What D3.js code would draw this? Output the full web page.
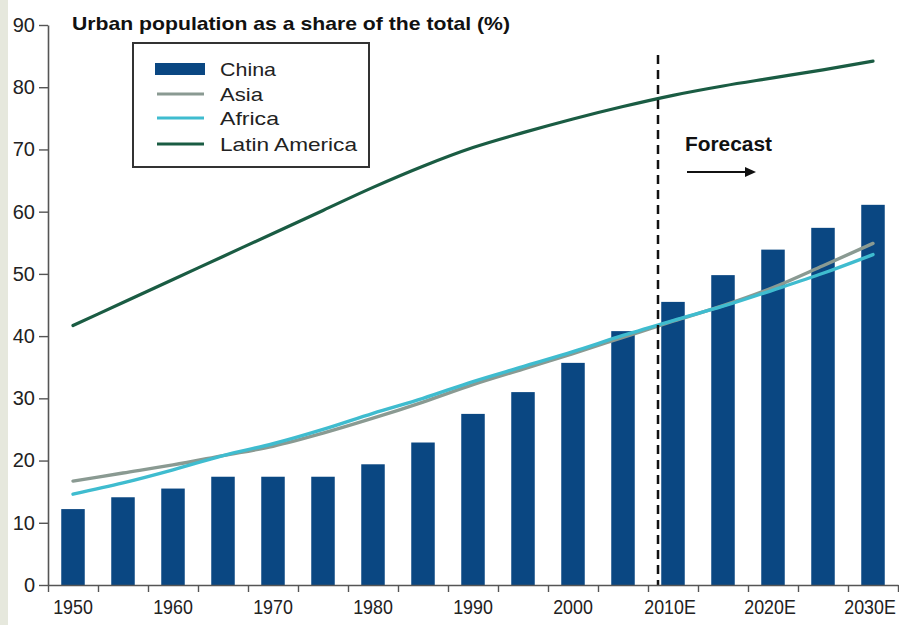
<!DOCTYPE html>
<html>
<head>
<meta charset="utf-8">
<script src="https://cdn.jsdelivr.net/npm/d3@7/dist/d3.min.js"></script>
<style>
  html, body { margin: 0; padding: 0; background: #ffffff; }
  svg { display: block; }
  text { font-family: "Liberation Sans", Arial, Helvetica, sans-serif; }
</style>
</head>
<body>
<svg id="chart" width="899" height="625"></svg>
<script>
// ---- data ----
const years = ["1950","1955","1960","1965","1970","1975","1980","1985","1990","1995","2000","2005","2010","2015","2020","2025","2030"];
const yearNums = years.map(Number);
const china = [12.2, 14.1, 15.5, 17.4, 17.4, 17.4, 19.4, 22.9, 27.5, 31.0, 35.7, 40.8, 45.5, 49.8, 53.9, 57.4, 61.1];
const asia = [16.7, 18.0, 19.3, 20.8, 22.3, 24.4, 26.8, 29.4, 32.2, 34.7, 37.2, 39.8, 42.4, 44.9, 47.8, 51.3, 54.9];
const africa = [14.6, 16.4, 18.5, 20.8, 22.7, 25.0, 27.6, 30.0, 32.7, 35.1, 37.5, 40.1, 42.5, 44.8, 47.4, 50.1, 53.1];
const latinAmerica = [41.7, 45.4, 49.1, 52.8, 56.5, 60.2, 63.9, 67.3, 70.3, 72.7, 74.9, 76.9, 78.7, 80.2, 81.5, 82.8, 84.2];
const xTickYears = ["1950","1960","1970","1980","1990","2000","2010","2020","2030"];
const xTickLabels = ["1950","1960","1970","1980","1990","2000","2010E","2020E","2030E"];
const yTicks = [0, 10, 20, 30, 40, 50, 60, 70, 80, 90];
const forecastStartYear = 2008.5;
const seriesNames = ["China", "Asia", "Africa", "Latin America"];
const colors = { China: "#0a4782", Asia: "#8a9a92", Africa: "#3fbccf", "Latin America": "#1a5c43" };
const titleText = "Urban population as a share of the total (%)";
const forecastText = "Forecast";

// ---- layout ----
const svg = d3.select("#chart");
const mLeft = 48, mRight = 898, mTop = 25, mBottom = 585;

svg.append("rect").attr("x", 0).attr("y", 0).attr("width", 8).attr("height", 625).attr("fill", "#e6e8dd");

const x = d3.scaleBand().domain(years).range([mLeft, mRight]).paddingInner(0.53).paddingOuter(0.265);
const xYear = d3.scaleLinear().domain([1947.5, 2032.5]).range([mLeft, mRight]);
const y = d3.scaleLinear().domain([0, 90]).range([mBottom, mTop]);

// bars
svg.append("g").selectAll("rect").data(years).join("rect")
  .attr("x", d => x(d))
  .attr("width", x.bandwidth())
  .attr("y", (d, i) => y(china[i]))
  .attr("height", (d, i) => y(0) - y(china[i]))
  .attr("fill", colors.China);

// lines
const line = d3.line().x(d => xYear(d[0])).y(d => y(d[1])).curve(d3.curveMonotoneX);
function drawLine(vals, color, w) {
  svg.append("path")
    .datum(yearNums.map((yr, i) => [yr, vals[i]]))
    .attr("d", line)
    .attr("fill", "none")
    .attr("stroke", color)
    .attr("stroke-width", w)
    .attr("stroke-linecap", "round")
    .attr("stroke-linejoin", "round");
}
drawLine(asia, colors.Asia, 3.4);
drawLine(africa, colors.Africa, 3.4);
drawLine(latinAmerica, colors["Latin America"], 3.2);

// forecast divider
svg.append("line")
  .attr("x1", xYear(forecastStartYear)).attr("x2", xYear(forecastStartYear))
  .attr("y1", 55).attr("y2", mBottom)
  .attr("stroke", "#111").attr("stroke-width", 2.5)
  .attr("stroke-dasharray", "9,6");

// axes
const yAxis = svg.append("g").attr("transform", `translate(${mLeft},0)`)
  .call(d3.axisLeft(y).tickValues(yTicks).tickSize(9).tickSizeOuter(0).tickPadding(4));
yAxis.select(".domain").attr("stroke", "#555").attr("stroke-width", 1.6);
yAxis.selectAll(".tick line").attr("stroke", "#555").attr("stroke-width", 1.4);
yAxis.selectAll(".tick text").attr("font-size", 20).attr("fill", "#222");

const xTicks = svg.append("g").attr("transform", `translate(0,${mBottom})`)
  .call(d3.axisBottom(xYear).tickValues(d3.range(1947.5, 2033, 5)).tickFormat("").tickSize(7).tickSizeOuter(0));
xTicks.select(".domain").attr("stroke", "#555").attr("stroke-width", 1.6);
xTicks.selectAll(".tick line").attr("stroke", "#555").attr("stroke-width", 1.4);

const xLabels = svg.append("g").attr("transform", `translate(0,${mBottom})`)
  .call(d3.axisBottom(x).tickValues(xTickYears).tickSize(0).tickPadding(14)
        .tickFormat(d => xTickLabels[xTickYears.indexOf(d)]));
xLabels.select(".domain").remove();
xLabels.selectAll(".tick text")
  .attr("font-size", 21).attr("fill", "#222")
  .attr("transform", d => `translate(${xTickLabels[xTickYears.indexOf(d)].length === 4 ? 0 : -3},0) scale(0.85,1)`);

// title
svg.append("text").attr("x", 72).attr("y", 30)
  .attr("font-size", 19).attr("font-weight", "bold").attr("fill", "#111")
  .attr("textLength", 438).attr("lengthAdjust", "spacingAndGlyphs")
  .text(titleText);

// legend
const lg = svg.append("g");
lg.append("rect").attr("x", 133).attr("y", 43).attr("width", 236).attr("height", 124)
  .attr("fill", "#fff").attr("stroke", "#333").attr("stroke-width", 2);
const rowY = [69, 94, 118, 144];
const textLens = [56, 43, 59, 137];
seriesNames.forEach((name, i) => {
  if (i === 0) {
    lg.append("rect").attr("x", 155).attr("y", rowY[i] - 6).attr("width", 50).attr("height", 12).attr("fill", colors[name]);
  } else {
    lg.append("line").attr("x1", 157).attr("x2", 204).attr("y1", rowY[i]).attr("y2", rowY[i])
      .attr("stroke", colors[name]).attr("stroke-width", 3.2);
  }
  lg.append("text").attr("x", 220).attr("y", rowY[i] + 7)
    .attr("font-size", 18.5).attr("fill", "#222")
    .attr("textLength", textLens[i]).attr("lengthAdjust", "spacingAndGlyphs")
    .text(name);
});

// forecast annotation
const fx = xYear(forecastStartYear);
svg.append("text").attr("x", fx + 27).attr("y", 151)
  .attr("font-size", 20).attr("font-weight", "bold").attr("fill", "#111")
  .attr("textLength", 87).attr("lengthAdjust", "spacingAndGlyphs")
  .text(forecastText);
svg.append("line").attr("x1", fx + 29).attr("x2", fx + 90).attr("y1", 172).attr("y2", 172)
  .attr("stroke", "#111").attr("stroke-width", 2);
svg.append("path")
  .attr("d", `M${fx + 98},172 L${fx + 87},167 L${fx + 87},177 Z`)
  .attr("fill", "#111");
</script>
</body>
</html>
